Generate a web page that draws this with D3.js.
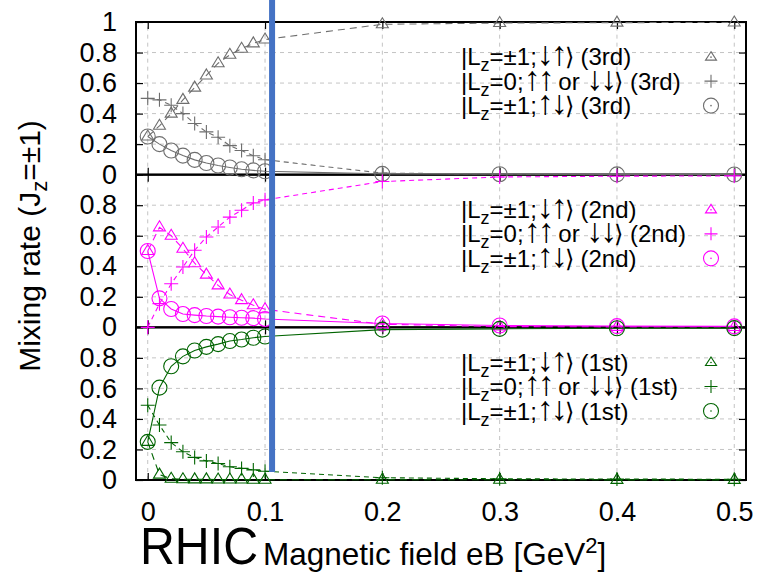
<!DOCTYPE html>
<html>
<head>
<meta charset="utf-8">
<script src="https://cdn.jsdelivr.net/npm/d3@7"></script>
<style>
  body { margin: 0; background: #fff; }
  svg { display: block; }
  text { font-family: "Liberation Sans", Arial, Helvetica, sans-serif; fill: #000; }
</style>
</head>
<body>
<svg id="chart" width="761" height="576"></svg>
<script>
// Magnetic field values (GeV^2)
const eB = [0, 0.01, 0.02, 0.03, 0.04, 0.05, 0.06, 0.07, 0.08, 0.09, 0.1, 0.2, 0.3, 0.4, 0.5];

// 3rd state mixing rates
const third_dnup = [0.25, 0.32, 0.40, 0.49, 0.57, 0.65, 0.73, 0.785, 0.825, 0.86, 0.885, 0.985, 0.993, 0.996, 0.997];
const third_same = [0.50, 0.49, 0.455, 0.40, 0.335, 0.28, 0.245, 0.19, 0.158, 0.124, 0.098, 0.01, 0.005, 0.003, 0.002];
const third_updn = [0.25, 0.20, 0.158, 0.125, 0.097, 0.076, 0.06, 0.047, 0.035, 0.028, 0.022, 0.005, 0.003, 0.002, 0.001];

// 2nd state mixing rates
const second_dnup = [0.50, 0.655, 0.60, 0.515, 0.42, 0.345, 0.275, 0.215, 0.178, 0.145, 0.118, 0.02, 0.005, 0.003, 0.002];
const second_same = [0.0, 0.155, 0.285, 0.395, 0.505, 0.592, 0.657, 0.722, 0.767, 0.815, 0.835, 0.955, 0.985, 0.99, 0.992];
const second_updn = [0.50, 0.19, 0.12, 0.087, 0.08, 0.074, 0.07, 0.066, 0.063, 0.06, 0.055, 0.025, 0.012, 0.008, 0.006];

// 1st state mixing rates
const first_dnup = [0.25, 0.035, 0.008, 0.005, 0.004, 0.004, 0.003, 0.003, 0.003, 0.002, 0.002, 0.002, 0.002, 0.001, 0.001];
const first_same = [0.49, 0.36, 0.245, 0.185, 0.148, 0.125, 0.108, 0.087, 0.076, 0.066, 0.057, 0.015, 0.008, 0.006, 0.005];
const first_updn = [0.25, 0.605, 0.745, 0.81, 0.848, 0.872, 0.89, 0.91, 0.92, 0.932, 0.94, 0.985, 0.99, 0.994, 0.995];

// Axis ticks
const xTicks = [0, 0.1, 0.2, 0.3, 0.4, 0.5];
const yTicksTop = [0, 0.2, 0.4, 0.6, 0.8, 1];
const yTicks = [0, 0.2, 0.4, 0.6, 0.8];
const yGrid = [0.2, 0.4, 0.6, 0.8];

// RHIC field strength marker
const rhicField = 0.106;

// Legend labels: text pieces, spin arrows set larger
const stateLabels = [
  { head: "=\u00b11;", arrows: "\u2193\u2191", tail: "\u27e9 (" },
  { head: "=0;", arrows: "\u2191\u2191", mid: " or ", arrows2: "\u2193\u2193", tail: "\u27e9 (" },
  { head: "=\u00b11;", arrows: "\u2191\u2193", tail: "\u27e9 (" }
];

const panels = [
  { tag: "3rd", color: "#6e6e6e", series: [third_dnup, third_same, third_updn], ticks: yTicksTop },
  { tag: "2nd", color: "#ff00ff", series: [second_dnup, second_same, second_updn], ticks: yTicks },
  { tag: "1st", color: "#006400", series: [first_dnup, first_same, first_updn], ticks: yTicks }
];

const svg = d3.select("#chart");
svg.append("rect").attr("width", 761).attr("height", 576).attr("fill", "#fff");

const frameL = 136, frameR = 746, frameT = 22, frameB = 480;
const panelH = (frameB - frameT) / panels.length;

const x = d3.scaleLinear().domain([-0.01, 0.51]).range([frameL, frameR]);

// marker shapes (centered at origin)
const triPath = "M0,-6.5L6,3.5L-6,3.5Z";
const plusPath = "M-7,0H7M0,-7V7";

const lineStyles = ["7,5", "5,4", null];

panels.forEach((p, i) => {
  const y = d3.scaleLinear().domain([0, 1]).range([frameT + (i + 1) * panelH, frameT + i * panelH]);
  const g = svg.append("g");

  // grid
  g.selectAll("line.vg").data(xTicks).join("line")
    .attr("x1", d => x(d)).attr("x2", d => x(d))
    .attr("y1", y(0)).attr("y2", y(1))
    .attr("stroke", "#c4c4c4").attr("stroke-width", 1).attr("stroke-dasharray", "4,4");
  g.selectAll("line.hg").data(yGrid).join("line")
    .attr("x1", frameL).attr("x2", frameR)
    .attr("y1", d => y(d)).attr("y2", d => y(d))
    .attr("stroke", "#c4c4c4").attr("stroke-width", 1).attr("stroke-dasharray", "4,4");

  // axes (inward ticks)
  const la = g.append("g").attr("transform", `translate(${frameL},0)`)
    .call(d3.axisLeft(y).tickValues(p.ticks).tickSize(-7).tickPadding(19).tickFormat(d3.format("~g")));
  la.selectAll("text").attr("font-size", 27).attr("font-family", "Liberation Sans, Arial, sans-serif");
  const ra = g.append("g").attr("transform", `translate(${frameR},0)`)
    .call(d3.axisRight(y).tickValues(p.ticks).tickSize(-7).tickFormat(""));
  const ba = g.append("g").attr("transform", `translate(0,${y(0)})`)
    .call(d3.axisBottom(x).tickValues(xTicks).tickSize(-7).tickPadding(22)
      .tickFormat(i === panels.length - 1 ? d3.format("~g") : ""));
  ba.selectAll("text").attr("font-size", 27).attr("font-family", "Liberation Sans, Arial, sans-serif");
  const ta = g.append("g").attr("transform", `translate(0,${y(1)})`)
    .call(d3.axisTop(x).tickValues(xTicks).tickSize(-7).tickFormat(""));
  [la, ra, ba, ta].forEach(a => {
    a.select(".domain").remove();
    a.selectAll(".tick line").attr("stroke", "#000").attr("stroke-width", 1.2);
  });

  // frame of this panel
  g.append("rect").attr("x", frameL).attr("y", y(1)).attr("width", frameR - frameL).attr("height", y(0) - y(1))
    .attr("fill", "none").attr("stroke", "#000").attr("stroke-width", 2);

  p.y = y;
});

// data lines and markers, drawn after frames
panels.forEach((p) => {
  const y = p.y;
  const g = svg.append("g");
  p.series.forEach((vals, k) => {
    const pts = eB.map((e, j) => [e, vals[j]]);
    g.append("path").datum(pts)
      .attr("d", d3.line().x(d => x(d[0])).y(d => y(d[1])))
      .attr("fill", "none").attr("stroke", p.color).attr("stroke-width", 1.1)
      .attr("stroke-dasharray", lineStyles[k]);
    const mk = g.selectAll(null).data(pts).join("g")
      .attr("transform", d => `translate(${x(d[0])},${y(d[1])})`);
    if (k === 0) {
      mk.append("path").attr("d", triPath).attr("fill", "none").attr("stroke", p.color).attr("stroke-width", 1.1);
    } else if (k === 1) {
      mk.append("path").attr("d", plusPath).attr("fill", "none").attr("stroke", p.color).attr("stroke-width", 1.1);
    } else {
      mk.append("circle").attr("r", 7.5).attr("fill", "none").attr("stroke", p.color).attr("stroke-width", 1.1);
    }
  });

  // legend
  const rowOffsets = [118, 93.5, 69];
  const lg = svg.append("g");
  stateLabels.forEach((lab, k) => {
    const cy = y(0) - rowOffsets[k];
    const t = lg.append("text").attr("x", 461).attr("y", cy + 8.5).attr("font-size", 24);
    t.append("tspan").text("|L");
    t.append("tspan").attr("dy", 6).attr("font-size", 18).text("z");
    t.append("tspan").attr("dy", -6).text(lab.head);
    t.append("tspan").attr("font-size", 34).attr("letter-spacing", -3).text(lab.arrows);
    if (lab.mid) {
      t.append("tspan").text(lab.mid);
      t.append("tspan").attr("font-size", 34).attr("letter-spacing", -3).text(lab.arrows2);
    }
    t.append("tspan").text(lab.tail + p.tag + ")");
    const s = lg.append("g").attr("transform", `translate(711,${cy})`);
    if (k === 0) {
      s.append("path").attr("d", "M0,-5L5.5,3.5L-5.5,3.5Z").attr("fill", "none").attr("stroke", p.color).attr("stroke-width", 1.1);
      s.append("circle").attr("cy", 0.5).attr("r", 0.8).attr("fill", p.color);
    } else if (k === 1) {
      s.append("path").attr("d", "M-6.5,0H6.5M0,-6.5V6.5").attr("fill", "none").attr("stroke", p.color).attr("stroke-width", 1.1);
    } else {
      s.append("circle").attr("r", 7.5).attr("fill", "none").attr("stroke", p.color).attr("stroke-width", 1.1);
      s.append("circle").attr("r", 0.8).attr("fill", p.color);
    }
  });
});

// RHIC field marker
svg.append("line")
  .attr("x1", x(rhicField)).attr("x2", x(rhicField))
  .attr("y1", 0).attr("y2", 472)
  .attr("stroke", "#4472c4").attr("stroke-width", 6);

// y axis title
const yt = svg.append("text")
  .attr("transform", "translate(40,246) rotate(-90)")
  .attr("text-anchor", "middle").attr("font-size", 30);
yt.append("tspan").text("Mixing rate (J");
yt.append("tspan").attr("dy", 7).attr("font-size", 22).text("z");
yt.append("tspan").attr("dy", -7).text("=\u00b11)");

// x axis title
svg.append("text").attr("x", 140).attr("y", 564).attr("font-size", 52)
  .attr("textLength", 118).attr("lengthAdjust", "spacingAndGlyphs").text("RHIC");
const xt = svg.append("text").attr("x", 263).attr("y", 565).attr("font-size", 31.5);
xt.append("tspan").text("Magnetic field eB [GeV");
xt.append("tspan").attr("dy", -12).attr("font-size", 22).text("2");
xt.append("tspan").attr("dy", 12).text("]");
</script>
</body>
</html>
